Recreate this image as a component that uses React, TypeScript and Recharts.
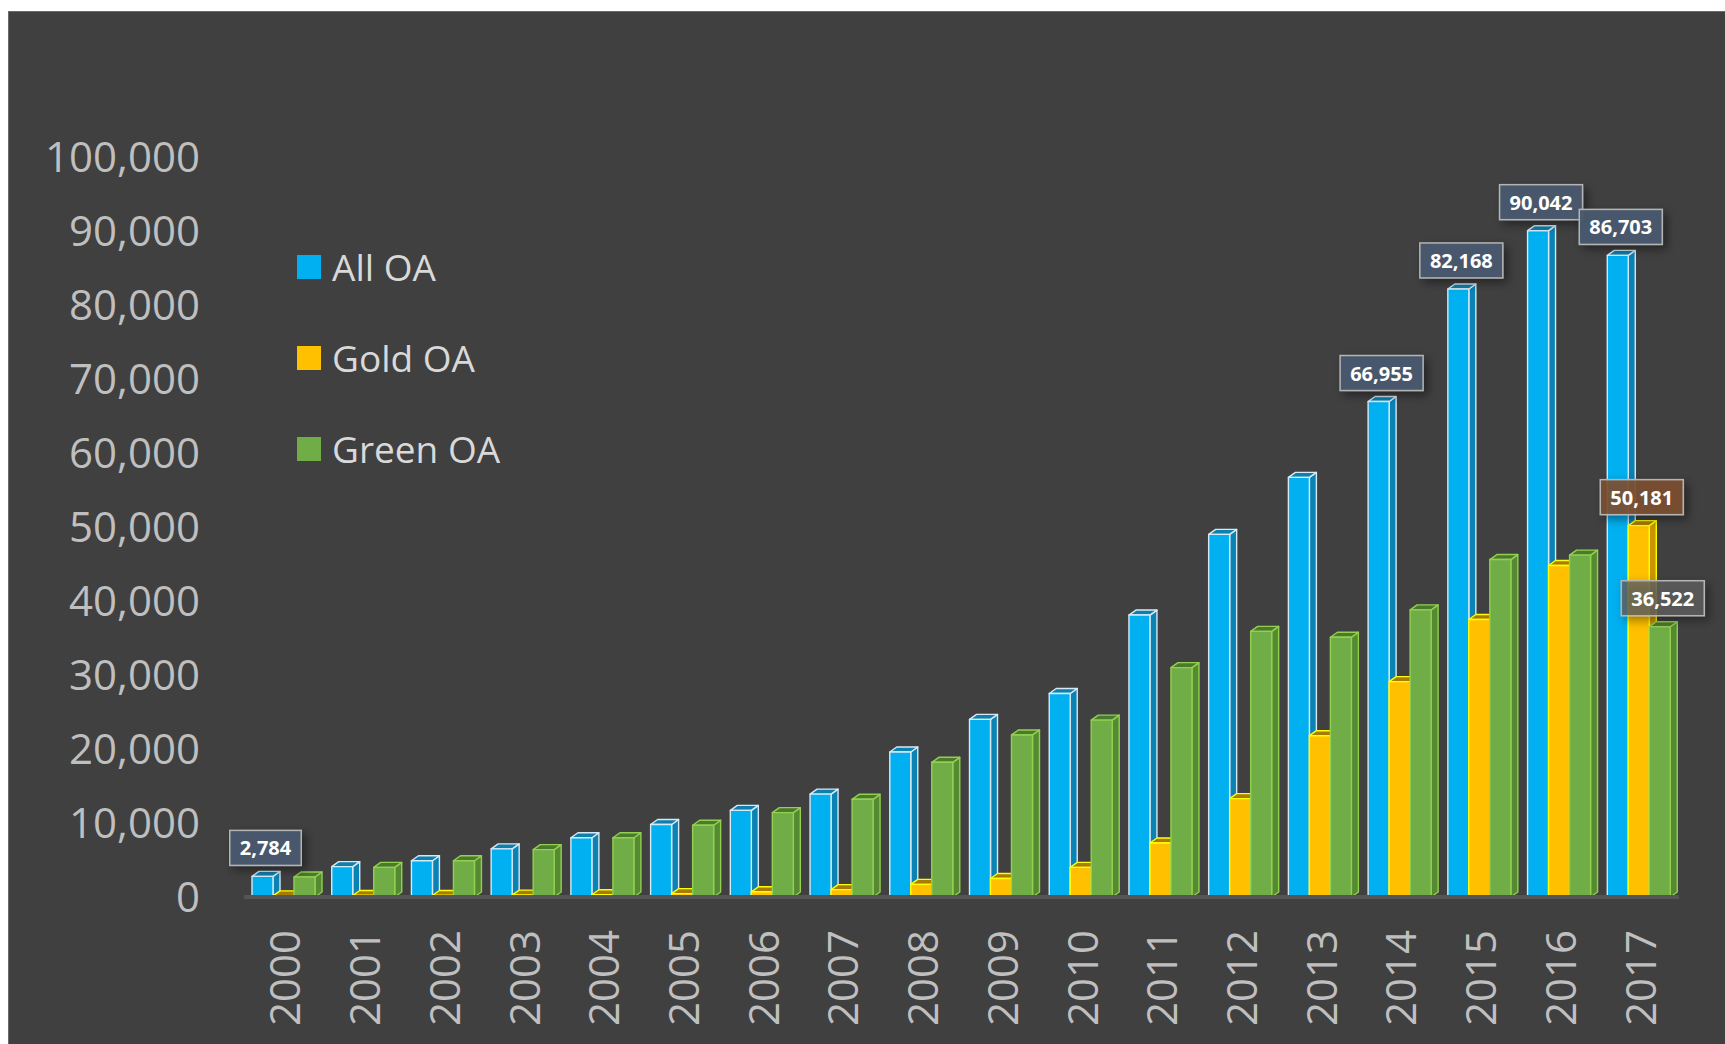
import { BarChart, Bar, XAxis, YAxis, Legend, LabelList } from "recharts";

const years = [
  "2000", "2001", "2002", "2003", "2004", "2005", "2006", "2007", "2008",
  "2009", "2010", "2011", "2012", "2013", "2014", "2015", "2016", "2017"
];
const allOA = [
  2784, 4100, 4900, 6500, 8000, 9800, 11700, 13900, 19600,
  24000, 27500, 38100, 49000, 56700, 66955, 82168, 90042, 86703
];
const goldOA = [
  150, 200, 200, 250, 300, 450, 700, 1000, 1700,
  2500, 4000, 7300, 13300, 21800, 29100, 37500, 44800, 50181
];
const greenOA = [
  2700, 4000, 4900, 6400, 8000, 9700, 11400, 13200, 18200,
  21900, 23900, 31000, 35900, 35100, 38800, 45600, 46200, 36522
];
const yTicks = [0, 10000, 20000, 30000, 40000, 50000, 60000, 70000, 80000, 90000, 100000];

// years that carry a value callout, per series
const labelledAll = ["2000", "2014", "2015", "2016", "2017"];
const labelledGold = ["2017"];
const labelledGreen = ["2017"];

const data = years.map((year, i) => ({
  year,
  all: allOA[i],
  gold: goldOA[i],
  green: greenOA[i]
}));

const SERIES = [
  {
    key: "all",
    name: "All OA",
    front: "#00b0f0",
    side: "#0a82b3",
    top: "#0f7fab",
    stroke: "#d6e9f5",
    labels: labelledAll,
    boxFill: "rgba(72,90,110,0.95)"
  },
  {
    key: "gold",
    name: "Gold OA",
    front: "#ffc000",
    side: "#c99500",
    top: "#a87c00",
    stroke: "#ffff00",
    labels: labelledGold,
    boxFill: "rgba(125,80,50,0.9)"
  },
  {
    key: "green",
    name: "Green OA",
    front: "#70ad47",
    side: "#558a33",
    top: "#4c7a2c",
    stroke: "#92d050",
    labels: labelledGreen,
    boxFill: "rgba(95,95,95,0.8)"
  }
];

const DX = 7;
const DY = 5;

function box3D(s: (typeof SERIES)[number]) {
  return (props: any) => {
    const { x, y, width: w, height: h } = props;
    if (w == null || h == null) return <g />;
    return (
      <g strokeWidth={1.4} stroke={s.stroke} strokeLinejoin="round">
        <polygon
          points={`${x + w},${y + h} ${x + w},${y} ${x + w + DX},${y - DY} ${x + w + DX},${y + h - DY}`}
          fill={s.side}
        />
        <polygon
          points={`${x},${y} ${x + w},${y} ${x + w + DX},${y - DY} ${x + DX},${y - DY}`}
          fill={s.top}
        />
        <rect x={x} y={y} width={w} height={h} fill={s.front} />
      </g>
    );
  };
}

function callout(s: (typeof SERIES)[number]) {
  return (props: any) => {
    const { x, y, width, value, index } = props;
    const year = years[index];
    if (!s.labels.includes(year)) return null;
    const text = Number(value).toLocaleString("en-US");
    const bw = text.length * 11.5 + 14;
    const bh = 35;
    const cx = x + width / 2 + 3;
    const bottom = y - 11;
    return (
      <g>
        <rect
          x={cx - bw / 2}
          y={bottom - bh}
          width={bw}
          height={bh}
          fill={s.boxFill}
          stroke="#b4b4b4"
          strokeWidth={1.5}
          filter="url(#lblShadow)"
        />
        <text
          x={cx}
          y={bottom - bh / 2}
          textAnchor="middle"
          dominantBaseline="central"
          fill="#ffffff"
          fontSize={20}
          fontWeight={700}
          fontFamily="'Open Sans', sans-serif"
        >
          {text}
        </text>
      </g>
    );
  };
}

function YearTick(props: any) {
  const { x, y, payload } = props;
  const ay = y + 33;
  return (
    <text
      x={x}
      y={ay}
      transform={`rotate(-90 ${x} ${ay})`}
      textAnchor="end"
      dominantBaseline="central"
      fill="#bfbfbf"
      fontSize={42}
      fontFamily="'Open Sans', sans-serif"
    >
      {payload.value}
    </text>
  );
}

function LegendBox() {
  return (
    <div style={{ fontFamily: "'Open Sans', sans-serif" }}>
      {SERIES.map((s) => (
        <div
          key={s.key}
          style={{ height: 91, display: "flex", alignItems: "center" }}
        >
          <span
            style={{
              width: 24,
              height: 24,
              background: s.front,
              display: "inline-block",
              marginRight: 11
            }}
          />
          <span style={{ color: "#d9d9d9", fontSize: 37, lineHeight: 1 }}>
            {s.name}
          </span>
        </div>
      ))}
    </div>
  );
}

export default function App() {
  return (
    <div
      style={{
        position: "absolute",
        left: 8,
        top: 11,
        width: 1717,
        height: 1033,
        background: "#404040",
        borderTop: "1px solid #6a6a6a",
        borderLeft: "1px solid #6a6a6a",
        boxSizing: "border-box"
      }}
    >
      <svg width={0} height={0} style={{ position: "absolute" }}>
        <defs>
          <filter id="lblShadow" x="-30%" y="-30%" width="170%" height="180%">
            <feDropShadow dx={4} dy={4} stdDeviation={5} floodColor="#000" floodOpacity={0.45} />
          </filter>
        </defs>
      </svg>
      <BarChart
        width={1716}
        height={1032}
        data={data}
        margin={{ top: 145, right: 46, bottom: 0, left: 0 }}
        barGap={0}
        barSize={21}
      >
        <XAxis
          dataKey="year"
          height={147}
          tickSize={0}
          tickMargin={0}
          interval={0}
          tick={<YearTick />}
          axisLine={{ stroke: "#555555", strokeWidth: 4 }}
        />
        <YAxis
          width={235}
          domain={[0, 100000]}
          ticks={yTicks}
          tickSize={0}
          tickMargin={44}
          axisLine={false}
          tickLine={false}
          tick={{ fill: "#bfbfbf", fontSize: 42, fontFamily: "'Open Sans', sans-serif" }}
          tickFormatter={(v: number) => v.toLocaleString("en-US")}
        />
        <Legend
          layout="horizontal"
          verticalAlign="middle"
          align="center"
          content={() => <LegendBox />}
          wrapperStyle={{ left: 288, top: 209, width: 320, height: 273 }}
        />
        {SERIES.map((s) => (
          <Bar
            key={s.key}
            dataKey={s.key}
            name={s.name}
            fill={s.front}
            shape={box3D(s)}
            isAnimationActive={false}
          >
            <LabelList dataKey={s.key} content={callout(s)} />
          </Bar>
        ))}
      </BarChart>
    </div>
  );
}
